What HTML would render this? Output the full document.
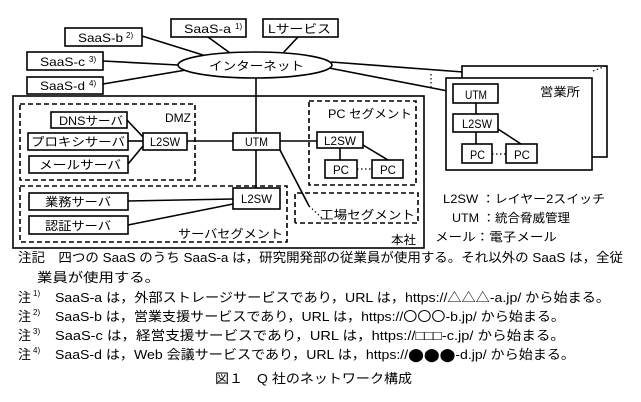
<!DOCTYPE html>
<html><head><meta charset="utf-8"><style>
html,body{margin:0;padding:0;background:#fff;}
svg{display:block;}
text{font-family:"Liberation Sans","Noto Sans CJK JP",sans-serif;fill:#000;}
</style></head><body>
<svg width="641" height="402" viewBox="0 0 641 402" xmlns="http://www.w3.org/2000/svg">
<g stroke="#000" fill="none" stroke-width="1.6">
<line x1="142" y1="36" x2="203" y2="55"/>
<line x1="103" y1="61" x2="178" y2="65"/>
<line x1="103" y1="84" x2="186" y2="70"/>
<line x1="208" y1="37" x2="230" y2="53"/>
<line x1="298" y1="37" x2="283" y2="53"/>
<line x1="331" y1="62" x2="463" y2="72"/>
<line x1="329" y1="68" x2="453" y2="92"/>
<line x1="256" y1="78" x2="256" y2="133"/>
<rect x="462" y="66" width="145" height="91" fill="#fff"/>
<rect x="446" y="78" width="146" height="92" fill="#fff"/>
<ellipse cx="255" cy="65" rx="77" ry="13" fill="#fff"/>
<rect x="13" y="96" width="411" height="152"/>
<g stroke-dasharray="5,3">
<rect x="20" y="104" width="175" height="76"/>
<rect x="20" y="186" width="267" height="56"/>
<rect x="309" y="101" width="107" height="84"/>
<polyline points="295,223 295,193 418,193 418,223 295,223"/>
</g>
<rect x="171" y="19" width="75" height="18" fill="#fff"/>
<rect x="263" y="19" width="75" height="18" fill="#fff"/>
<rect x="65" y="28" width="77" height="18" fill="#fff"/>
<rect x="27" y="52" width="76" height="18" fill="#fff"/>
<rect x="27" y="77" width="76" height="17" fill="#fff"/>
<rect x="51" y="112" width="76" height="16"/>
<rect x="28" y="133" width="100" height="17"/>
<rect x="29" y="156" width="99" height="17"/>
<rect x="143" y="133" width="44" height="17"/>
<rect x="233" y="133" width="47" height="17"/>
<rect x="317" y="132" width="46" height="16"/>
<rect x="325" y="160" width="32" height="18"/>
<rect x="372" y="160" width="31" height="18"/>
<rect x="29" y="193" width="99" height="17"/>
<rect x="29" y="216" width="99" height="18"/>
<rect x="233" y="188" width="47" height="21"/>
<rect x="453" y="84" width="45" height="19"/>
<rect x="453" y="114" width="45" height="18"/>
<rect x="462" y="144" width="30" height="19"/>
<rect x="506" y="144" width="31" height="19"/>
<line x1="127" y1="120" x2="143" y2="137"/>
<line x1="128" y1="141" x2="143" y2="141"/>
<line x1="128" y1="164" x2="143" y2="146"/>
<line x1="187" y1="141" x2="233" y2="141"/>
<line x1="280" y1="141" x2="317" y2="141"/>
<line x1="256" y1="150" x2="256" y2="188"/>
<line x1="280" y1="150" x2="309" y2="206"/>
<line x1="128" y1="201" x2="233" y2="199"/>
<line x1="128" y1="225" x2="233" y2="204"/>
<line x1="340" y1="148" x2="340" y2="160"/>
<line x1="363" y1="145" x2="388" y2="160"/>
<line x1="476" y1="103" x2="476" y2="114"/>
<line x1="476" y1="132" x2="476" y2="144"/>
<line x1="498" y1="129" x2="521" y2="144"/>
</g>
<g stroke="#000" fill="none" stroke-width="1.2" stroke-dasharray="1.5,2.5">
<line x1="309" y1="206" x2="322" y2="218"/>
<line x1="431" y1="74" x2="431" y2="90"/>
<line x1="593" y1="71" x2="606" y2="66"/>
<line x1="357" y1="169" x2="372" y2="169"/>
<line x1="492" y1="154" x2="506" y2="154"/>
</g>
<g font-size="12">
<text x="184" y="33" textLength="47" lengthAdjust="spacingAndGlyphs">SaaS-a</text><text x="235" y="29" font-size="8">1)</text>
<text x="268" y="33" textLength="63" lengthAdjust="spacingAndGlyphs">Lサービス</text>
<text x="78" y="42" textLength="45" lengthAdjust="spacingAndGlyphs">SaaS-b</text><text x="126" y="38" font-size="8">2)</text>
<text x="40" y="66" textLength="45" lengthAdjust="spacingAndGlyphs">SaaS-c</text><text x="89" y="62" font-size="8">3)</text>
<text x="40" y="90" textLength="45" lengthAdjust="spacingAndGlyphs">SaaS-d</text><text x="89" y="86" font-size="8">4)</text>
<text x="209" y="70" textLength="95" lengthAdjust="spacingAndGlyphs">インターネット</text>
<text x="165" y="122" textLength="26" lengthAdjust="spacingAndGlyphs">DMZ</text>
<text x="59" y="125" textLength="64" lengthAdjust="spacingAndGlyphs">DNSサーバ</text>
<text x="31" y="146" textLength="94" lengthAdjust="spacingAndGlyphs">プロキシサーバ</text>
<text x="39" y="169" textLength="82" lengthAdjust="spacingAndGlyphs">メールサーバ</text>
<text x="150" y="146" textLength="30" lengthAdjust="spacingAndGlyphs">L2SW</text>
<text x="245" y="146" textLength="23" lengthAdjust="spacingAndGlyphs">UTM</text>
<text x="328" y="118" textLength="84" lengthAdjust="spacingAndGlyphs">PC セグメント</text>
<text x="324" y="145" textLength="32" lengthAdjust="spacingAndGlyphs">L2SW</text>
<text x="333" y="174" textLength="16" lengthAdjust="spacingAndGlyphs">PC</text>
<text x="380" y="174" textLength="16" lengthAdjust="spacingAndGlyphs">PC</text>
<text x="45" y="206" textLength="66" lengthAdjust="spacingAndGlyphs">業務サーバ</text>
<text x="45" y="230" textLength="66" lengthAdjust="spacingAndGlyphs">認証サーバ</text>
<text x="241" y="203" textLength="31" lengthAdjust="spacingAndGlyphs">L2SW</text>
<text x="178" y="238" textLength="105" lengthAdjust="spacingAndGlyphs">サーバセグメント</text>
<text x="320" y="219" textLength="95" lengthAdjust="spacingAndGlyphs">工場セグメント</text>
<text x="391" y="244" textLength="25" lengthAdjust="spacingAndGlyphs">本社</text>
<text x="540" y="96" textLength="40" lengthAdjust="spacingAndGlyphs">営業所</text>
<text x="465" y="99" textLength="22" lengthAdjust="spacingAndGlyphs">UTM</text>
<text x="462" y="128" textLength="30" lengthAdjust="spacingAndGlyphs">L2SW</text>
<text x="470" y="159" textLength="15" lengthAdjust="spacingAndGlyphs">PC</text>
<text x="514" y="159" textLength="16" lengthAdjust="spacingAndGlyphs">PC</text>
<text x="443" y="203" textLength="162" lengthAdjust="spacingAndGlyphs">L2SW ：レイヤー2スイッチ</text>
<text x="452" y="222" textLength="118" lengthAdjust="spacingAndGlyphs">UTM ：統合脅威管理</text>
<text x="435" y="241" textLength="122" lengthAdjust="spacingAndGlyphs">メール：電子メール</text>
</g>
<g font-size="13">
<text x="18" y="262" textLength="605" lengthAdjust="spacingAndGlyphs">注記　四つの SaaS のうち SaaS-a は，研究開発部の従業員が使用する。それ以外の SaaS は，全従</text>
<text x="37" y="282" textLength="123" lengthAdjust="spacingAndGlyphs">業員が使用する。</text>
<text x="18" y="302">注</text><text x="33" y="296" font-size="8">1)</text>
<text x="55" y="302" textLength="555" lengthAdjust="spacingAndGlyphs">SaaS-a は，外部ストレージサービスであり，URL は，https://△△△-a.jp/ から始まる。</text>
<text x="18" y="321">注</text><text x="33" y="315" font-size="8">2)</text>
<text x="55" y="321" textLength="510" lengthAdjust="spacingAndGlyphs">SaaS-b は，営業支援サービスであり，URL は，https://〇〇〇-b.jp/ から始まる。</text>
<text x="18" y="340">注</text><text x="33" y="334" font-size="8">3)</text>
<text x="55" y="340" textLength="510" lengthAdjust="spacingAndGlyphs">SaaS-c は，経営支援サービスであり，URL は，https://□□□-c.jp/ から始まる。</text>
<text x="18" y="359">注</text><text x="33" y="353" font-size="8">4)</text>
<text x="55" y="359" textLength="520" lengthAdjust="spacingAndGlyphs">SaaS-d は，Web 会議サービスであり，URL は，https://⬤⬤⬤-d.jp/ から始まる。</text>
<text x="215" y="383" textLength="197" lengthAdjust="spacingAndGlyphs">図１　Q 社のネットワーク構成</text>
</g>
</svg>
</body></html>
